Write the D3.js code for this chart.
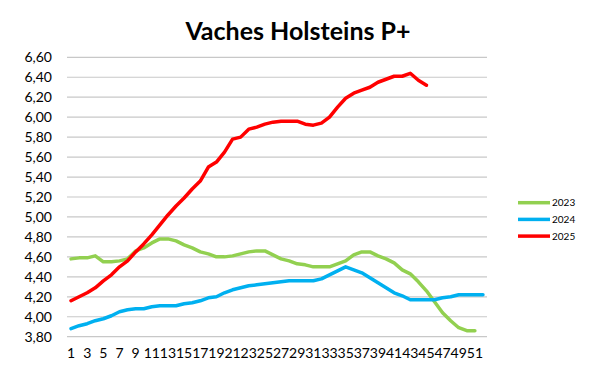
<!DOCTYPE html>
<html>
<head>
<meta charset="utf-8">
<script src="https://cdn.jsdelivr.net/npm/d3@7"></script>
<style>
  body { margin: 0; background: #fff; }
  text { font-family: Lato, "Open Sans", sans-serif; fill: #000; }
</style>
</head>
<body>
<div id="chart"></div>
<script>
// weeks 1..52
const weeks = d3.range(1, 53)
const yTicks = [3.8, 4.0, 4.2, 4.4, 4.6, 4.8, 5.0, 5.2, 5.4, 5.6, 5.8, 6.0, 6.2, 6.4, 6.6]

const v2023 = [4.58, 4.59, 4.59, 4.61, 4.55, 4.55, 4.56, 4.58, 4.66, 4.69,
               4.74, 4.78, 4.78, 4.76, 4.72, 4.69, 4.65, 4.63, 4.60, 4.60,
               4.61, 4.63, 4.65, 4.66, 4.66, 4.62, 4.58, 4.56, 4.53, 4.52,
               4.50, 4.50, 4.50, 4.53, 4.56, 4.62, 4.65, 4.65, 4.61, 4.58,
               4.54, 4.47, 4.43, 4.35, 4.26, 4.15, 4.04, 3.96, 3.89, 3.86,
               3.86]
const v2024 = [3.88, 3.91, 3.93, 3.96, 3.98, 4.01, 4.05, 4.07, 4.08, 4.08,
               4.10, 4.11, 4.11, 4.11, 4.13, 4.14, 4.16, 4.19, 4.20, 4.24,
               4.27, 4.29, 4.31, 4.32, 4.33, 4.34, 4.35, 4.36, 4.36, 4.36,
               4.36, 4.38, 4.42, 4.46, 4.50, 4.47, 4.44, 4.39, 4.34, 4.29,
               4.24, 4.21, 4.17, 4.17, 4.17, 4.17, 4.19, 4.20, 4.22, 4.22,
               4.22, 4.22]
const v2025 = [4.16, 4.20, 4.24, 4.29, 4.36, 4.42, 4.50, 4.56, 4.65, 4.73,
               4.82, 4.92, 5.02, 5.11, 5.19, 5.28, 5.36, 5.50, 5.55, 5.65,
               5.78, 5.80, 5.88, 5.90, 5.93, 5.95, 5.96, 5.96, 5.96, 5.93,
               5.92, 5.94, 6.00, 6.10, 6.19, 6.24, 6.27, 6.30, 6.35, 6.38,
               6.41, 6.41, 6.44, 6.37, 6.32]

const seriesNames = ["2023", "2024", "2025"]
const seriesColors = ["#92D050", "#00B0F0", "#FF0000"]
const seriesValues = [v2023, v2024, v2025]

const width = 600, height = 378

const svg = d3.select("#chart").append("svg")
    .attr("width", width)
    .attr("height", height)

const xScale = d3.scaleBand()
    .domain(weeks)
    .range([67, 487])
    .padding(0)

const yScale = d3.scaleLinear()
    .domain([3.8, 6.6])
    .range([336.7, 57.3])

// title
svg.append("text")
    .attr("x", 298)
    .attr("y", 40)
    .attr("text-anchor", "middle")
    .style("font-size", "25px")
    .style("font-weight", "bold")
    .text("Vaches Holsteins P+")

// gridlines
svg.append("g")
    .selectAll("line")
    .data(yTicks)
    .join("line")
    .attr("x1", 67)
    .attr("x2", 487)
    .attr("y1", d => yScale(d))
    .attr("y2", d => yScale(d))
    .attr("stroke", "#c8c8c8")
    .attr("stroke-width", 1.2)

const fmt = d => d3.format(".2f")(d).replace(".", ",")

const yAxis = d3.axisLeft(yScale)
    .tickValues(yTicks)
    .tickFormat(fmt)
    .tickSize(0)
    .tickPadding(0)

svg.append("g")
    .attr("transform", "translate(52,0)")
    .call(yAxis)
    .call(g => g.select(".domain").remove())
    .call(g => g.selectAll("text")
        .style("font-size", "14px")
        .style("font-family", "Lato, sans-serif")
        .attr("fill", "#000"))

const xAxis = d3.axisBottom(xScale)
    .tickValues(weeks.filter(d => d % 2 === 1))
    .tickSize(0)
    .tickPadding(0)

svg.append("g")
    .attr("transform", "translate(0,348)")
    .call(xAxis)
    .call(g => g.select(".domain").remove())
    .call(g => g.selectAll("text")
        .style("font-size", "14px")
        .style("font-family", "Lato, sans-serif")
        .attr("fill", "#000"))

const line = d3.line()
    .x((d, i) => xScale(weeks[i]) + xScale.bandwidth() / 2)
    .y(d => yScale(d))

seriesValues.forEach((vals, i) => {
    svg.append("path")
        .attr("d", line(vals))
        .attr("fill", "none")
        .attr("stroke", seriesColors[i])
        .attr("stroke-width", 3.5)
        .attr("stroke-linejoin", "round")
        .attr("stroke-linecap", "round")
})

// legend
const legend = svg.append("g")
    .selectAll("g")
    .data(seriesNames)
    .join("g")
    .attr("transform", (d, i) => `translate(518,${202.7 + i * 16.7})`)

legend.append("line")
    .attr("x1", 0)
    .attr("x2", 32)
    .attr("stroke", (d, i) => seriesColors[i])
    .attr("stroke-width", 3.5)

legend.append("text")
    .attr("x", 34)
    .attr("y", 3.5)
    .style("font-size", "10px")
    .text(d => d)
</script>
</body>
</html>
